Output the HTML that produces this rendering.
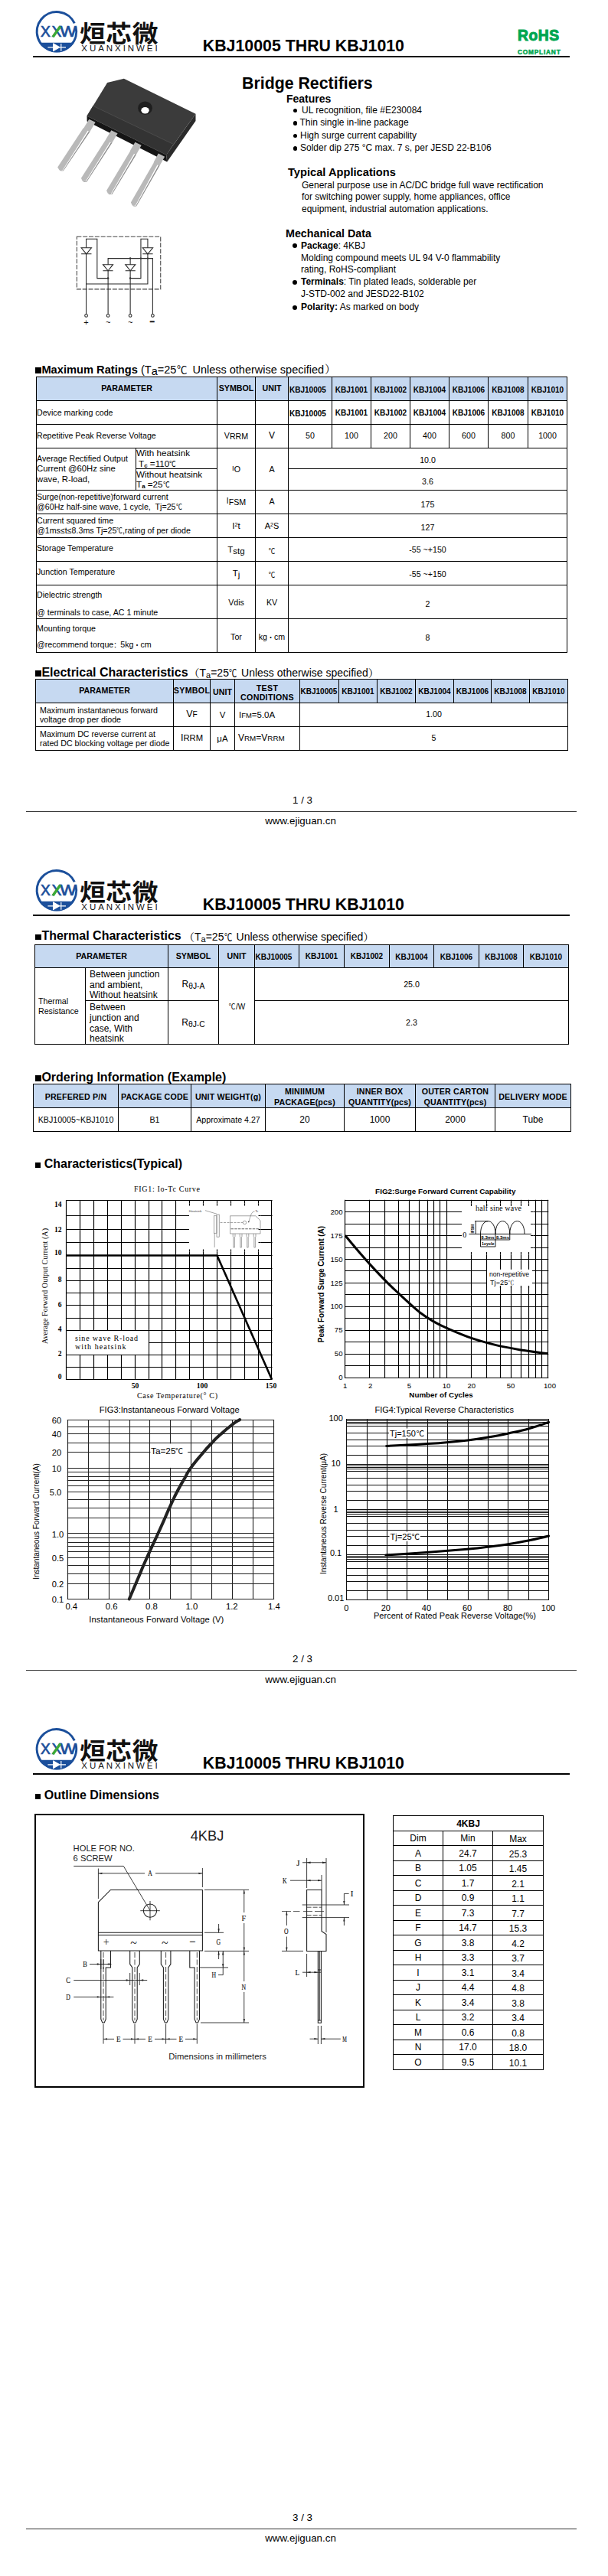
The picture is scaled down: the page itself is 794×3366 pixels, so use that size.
<!DOCTYPE html>
<html lang="en"><head><meta charset="utf-8"><title>KBJ10005 THRU KBJ1010</title>
<style>
html,body{margin:0;padding:0;background:#fff;}
body{width:794px;height:3366px;position:relative;overflow:hidden;font-family:"Liberation Sans","Noto Sans CJK SC",sans-serif;color:#000;}
.t{position:absolute;white-space:pre;line-height:1em;}
.l{position:absolute;}
.c{position:absolute;display:flex;align-items:center;justify-content:center;text-align:center;line-height:1.1;white-space:pre;}
.s{font-family:"Liberation Serif","Noto Serif CJK SC",serif;}
.m{font-family:"Liberation Mono",monospace;}
svg{position:absolute;overflow:visible;}
svg text{font-family:"Liberation Sans","Noto Sans CJK SC",sans-serif;}
svg text.s{font-family:"Liberation Serif","Noto Serif CJK SC",serif;}
.sm{font-size:82%;}
.sub{font-size:75%;vertical-align:-0.2em;}
.sup{font-size:65%;vertical-align:0.45em;}
.cj{font-family:"Noto Serif CJK SC","Noto Sans CJK SC",serif;line-height:0;}
.dc{display:inline-block;transform:scaleX(0.8);transform-origin:0 50%;margin-right:-0.22em;line-height:0;font-family:"Noto Sans CJK SC",sans-serif;font-size:92%;white-space:nowrap;}
</style></head><body>
<svg style="left:40px;top:8px" width="70" height="66" viewBox="40 8 70 66">
<defs><clipPath id="cp0"><rect x="40" y="55.8" width="70" height="20"/></clipPath></defs>
<path d="M 98.93 35.12 A 25.75 25.75 0 1 1 97.29 30.47" fill="none" stroke="#1b4f9b" stroke-width="3"/>
<circle cx="73.95" cy="41.35" r="26.9" fill="#1b4f9b" clip-path="url(#cp0)"/>
<g font-size="19.3" fill="#1b4f9b" stroke="#1b4f9b" stroke-width="0.7"><text x="53.1" y="48.3">X</text><text x="67.4" y="48.3">X</text><text x="78.3" y="48.3" textLength="21.5" lengthAdjust="spacingAndGlyphs">W</text></g>
<path d="M 69.1 48.3 L 78.8 34.5" stroke="#3aaa35" stroke-width="3.3" fill="none"/>
<path d="M 62.4 61.8 H 86 M 69.6 57 V 66.6 L 77.8 61.8 Z M 79.8 57 V 66.7" stroke="#fff" stroke-width="1.2" fill="#fff" stroke-linejoin="round"/>
</svg>
<div class="t" style="left:104px;top:26px;font-size:31px;font-weight:bold;font-family:'Noto Sans CJK SC','WenQuanYi Zen Hei',sans-serif;letter-spacing:0.5px;transform:scaleX(1.09);transform-origin:0 0;line-height:1em;color:#111">烜芯微</div>
<div class="t " style="left:106.30px;top:57.77px;font-size:11.5px;letter-spacing:2.95px;color:#111;">XUANXINWEI</div>
<div class="t " style="left:264.80px;top:49.54px;font-size:21.33px;font-weight:bold;">KBJ10005 THRU KBJ1010</div>
<div class="l" style="left:43px;top:73.3px;width:701px;height:1.3px;background:#000"></div>
<div class="t " style="left:676.00px;top:36.66px;font-size:19.3px;font-weight:bold;color:#00a650;-webkit-text-stroke:1px #00a650;letter-spacing:0.55px;">RoHS</div>
<div class="t " style="left:676.00px;top:64.17px;font-size:8.3px;font-weight:bold;color:#00a650;-webkit-text-stroke:0.5px #00a650;letter-spacing:0.8px;">COMPLIANT</div>
<div class="t " style="left:395.00px;top:1038.72px;font-size:13.33px;transform:translateX(-50%);">1 / 3</div>
<div class="l" style="left:34px;top:1059.5px;width:719px;height:1.3px;background:#333"></div>
<div class="t " style="left:392.50px;top:1065.72px;font-size:13.33px;transform:translateX(-50%);">www.ejiguan.cn</div>
<svg style="left:40px;top:1130px" width="70" height="66" viewBox="40 8 70 66">
<defs><clipPath id="cp1122"><rect x="40" y="55.8" width="70" height="20"/></clipPath></defs>
<path d="M 98.93 35.12 A 25.75 25.75 0 1 1 97.29 30.47" fill="none" stroke="#1b4f9b" stroke-width="3"/>
<circle cx="73.95" cy="41.35" r="26.9" fill="#1b4f9b" clip-path="url(#cp1122)"/>
<g font-size="19.3" fill="#1b4f9b" stroke="#1b4f9b" stroke-width="0.7"><text x="53.1" y="48.3">X</text><text x="67.4" y="48.3">X</text><text x="78.3" y="48.3" textLength="21.5" lengthAdjust="spacingAndGlyphs">W</text></g>
<path d="M 69.1 48.3 L 78.8 34.5" stroke="#3aaa35" stroke-width="3.3" fill="none"/>
<path d="M 62.4 61.8 H 86 M 69.6 57 V 66.6 L 77.8 61.8 Z M 79.8 57 V 66.7" stroke="#fff" stroke-width="1.2" fill="#fff" stroke-linejoin="round"/>
</svg>
<div class="t" style="left:104px;top:1148px;font-size:31px;font-weight:bold;font-family:'Noto Sans CJK SC','WenQuanYi Zen Hei',sans-serif;letter-spacing:0.5px;transform:scaleX(1.09);transform-origin:0 0;line-height:1em;color:#111">烜芯微</div>
<div class="t " style="left:106.30px;top:1179.77px;font-size:11.5px;letter-spacing:2.95px;color:#111;">XUANXINWEI</div>
<div class="t " style="left:264.80px;top:1171.54px;font-size:21.33px;font-weight:bold;">KBJ10005 THRU KBJ1010</div>
<div class="l" style="left:43px;top:1195.3px;width:701px;height:1.3px;background:#000"></div>
<div class="t " style="left:395.00px;top:2160.72px;font-size:13.33px;transform:translateX(-50%);">2 / 3</div>
<div class="l" style="left:34px;top:2181.5px;width:719px;height:1.3px;background:#333"></div>
<div class="t " style="left:392.50px;top:2187.72px;font-size:13.33px;transform:translateX(-50%);">www.ejiguan.cn</div>
<svg style="left:40px;top:2252px" width="70" height="66" viewBox="40 8 70 66">
<defs><clipPath id="cp2244"><rect x="40" y="55.8" width="70" height="20"/></clipPath></defs>
<path d="M 98.93 35.12 A 25.75 25.75 0 1 1 97.29 30.47" fill="none" stroke="#1b4f9b" stroke-width="3"/>
<circle cx="73.95" cy="41.35" r="26.9" fill="#1b4f9b" clip-path="url(#cp2244)"/>
<g font-size="19.3" fill="#1b4f9b" stroke="#1b4f9b" stroke-width="0.7"><text x="53.1" y="48.3">X</text><text x="67.4" y="48.3">X</text><text x="78.3" y="48.3" textLength="21.5" lengthAdjust="spacingAndGlyphs">W</text></g>
<path d="M 69.1 48.3 L 78.8 34.5" stroke="#3aaa35" stroke-width="3.3" fill="none"/>
<path d="M 62.4 61.8 H 86 M 69.6 57 V 66.6 L 77.8 61.8 Z M 79.8 57 V 66.7" stroke="#fff" stroke-width="1.2" fill="#fff" stroke-linejoin="round"/>
</svg>
<div class="t" style="left:104px;top:2270px;font-size:31px;font-weight:bold;font-family:'Noto Sans CJK SC','WenQuanYi Zen Hei',sans-serif;letter-spacing:0.5px;transform:scaleX(1.09);transform-origin:0 0;line-height:1em;color:#111">烜芯微</div>
<div class="t " style="left:106.30px;top:2301.77px;font-size:11.5px;letter-spacing:2.95px;color:#111;">XUANXINWEI</div>
<div class="t " style="left:264.80px;top:2293.54px;font-size:21.33px;font-weight:bold;">KBJ10005 THRU KBJ1010</div>
<div class="l" style="left:43px;top:2317.3px;width:701px;height:1.3px;background:#000"></div>
<div class="t " style="left:395.00px;top:3282.72px;font-size:13.33px;transform:translateX(-50%);">3 / 3</div>
<div class="l" style="left:34px;top:3303.5px;width:719px;height:1.3px;background:#333"></div>
<div class="t " style="left:392.50px;top:3309.72px;font-size:13.33px;transform:translateX(-50%);">www.ejiguan.cn</div>
<svg style="left:60px;top:90px" width="210" height="190" viewBox="0 0 608 550">
<defs>
<linearGradient id="lg" x1="0" y1="0" x2="1" y2="0"><stop offset="0" stop-color="#c9c9c9"/><stop offset="0.5" stop-color="#b4b4b4"/><stop offset="1" stop-color="#8f8f8f"/></linearGradient>
</defs>
<g stroke="none">
<!-- body -->
<path d="M155 178 L455 325 L458 352 L155 198 Z" fill="#151515"/>
<path d="M566 170 L566 197 L458 352 L455 325 Z" fill="#2b2b2b"/>
<path d="M232 52 L295 37 L566 170 L455 325 L155 178 Z" fill="#3b3b3b"/>
<path d="M178 140 L480 284 L455 325 L155 178 Z" fill="#333333"/>
<path d="M178 140 L480 284" stroke="#555" stroke-width="2" fill="none"/>
<path d="M155 178 L455 325" stroke="#4a4a4a" stroke-width="1.5" fill="none"/>
<!-- leads -->
<g fill="#b9b9b9">
<path d="M163 190 L187 202 L166 238 L158 234 L62 384 L50 382 L44 372 L140 226 L144 222 Z"/>
<path d="M247 232 L271 244 L250 280 L242 277 L150 425 L138 424 L133 413 L226 268 L228 264 Z"/>
<path d="M337 277 L361 289 L341 325 L333 321 L246 472 L234 471 L229 460 L318 312 L319 308 Z"/>
<path d="M425 320 L449 332 L430 366 L421 363 L338 517 L326 516 L321 505 L407 356 L408 352 Z"/>
</g>
<g fill="#8f8f8f">
<path d="M166 238 L162 236 L64 385 L50 382 L56 386 L66 386 Z"/>
<path d="M250 280 L246 278 L152 426 L138 424 L144 428 L154 428 Z"/>
<path d="M341 325 L337 323 L248 473 L234 471 L240 475 L250 475 Z"/>
<path d="M430 366 L426 364 L340 518 L326 516 L332 520 L342 520 Z"/>
</g>
<ellipse cx="375" cy="148" rx="27" ry="25" fill="#1e1e1e"/>
<ellipse cx="375" cy="157" rx="15" ry="12" fill="#fff"/>
</g></svg>
<svg style="left:90px;top:295px" width="140" height="140" viewBox="0 0 608 608">
<g fill="none" stroke="#262626" stroke-width="4.6">
<rect x="45" y="62" width="475" height="298" stroke="#444" stroke-dasharray="26 8"/>
<path d="M98 502 V75 H160 V298 H222"/>
<path d="M222 502 V185 H475 V502"/>
<path d="M348 502 V185"/>
<path d="M348 298 H408 V75 H447 V330 H98"/>
<path d="M70 160 H128 M193 255 H250 M320 255 H377 M418 160 H476"/>
<path d="M70 125 H128 L99 160 Z M193 220 H250 L222 255 Z M320 220 H377 L348 255 Z M418 125 H476 L447 160 Z" fill="#fff"/>
<circle cx="98" cy="510" r="8" fill="#fff"/><circle cx="222" cy="510" r="8" fill="#fff"/><circle cx="348" cy="510" r="8" fill="#fff"/><circle cx="475" cy="510" r="8" fill="#fff"/>
</g>
<g fill="#333" stroke="none"><circle cx="222" cy="298" r="5.5"/><circle cx="348" cy="298" r="5.5"/><circle cx="348" cy="185" r="5.5"/><circle cx="408" cy="185" r="5"/><circle cx="447" cy="185" r="5"/></g>
<g font-size="48" fill="#111" text-anchor="middle"><text x="98" y="566">+</text><text x="222" y="564">~</text><text x="348" y="564">~</text><text x="472" y="562" font-weight="bold" stroke="#111" stroke-width="2">−</text></g>
</svg>
<div class="t " style="left:316.00px;top:98.54px;font-size:21.33px;font-weight:bold;">Bridge Rectifiers</div>
<div class="t " style="left:374.00px;top:121.55px;font-size:14px;font-weight:bold;">Features</div>
<div class="l" style="left:382.5px;top:141.80px;width:5.6px;height:5.6px;border-radius:50%;background:#000"></div>
<div class="t " style="left:394.00px;top:137.84px;font-size:12px;">UL recognition, file #E230084</div>
<div class="l" style="left:382.5px;top:158.30px;width:5.6px;height:5.6px;border-radius:50%;background:#000"></div>
<div class="t " style="left:391.50px;top:154.34px;font-size:12px;">Thin single in-line package</div>
<div class="l" style="left:382.5px;top:174.80px;width:5.6px;height:5.6px;border-radius:50%;background:#000"></div>
<div class="t " style="left:392.00px;top:170.84px;font-size:12px;">High surge current capability</div>
<div class="l" style="left:382.5px;top:191.30px;width:5.6px;height:5.6px;border-radius:50%;background:#000"></div>
<div class="t " style="left:392.00px;top:187.34px;font-size:12px;">Solder dip 275 °C max. 7 s, per JESD 22-B106</div>
<div class="t " style="left:376.00px;top:217.58px;font-size:14.67px;font-weight:bold;">Typical Applications</div>
<div class="t " style="left:394.00px;top:235.84px;font-size:12px;">General purpose use in AC/DC bridge full wave rectification</div>
<div class="t " style="left:394.00px;top:251.34px;font-size:12px;">for switching power supply, home appliances, office</div>
<div class="t " style="left:394.00px;top:266.84px;font-size:12px;">equipment, industrial automation applications.</div>
<div class="t " style="left:373.00px;top:297.90px;font-size:14.3px;font-weight:bold;">Mechanical Data</div>
<div class="l" style="left:382px;top:318.20px;width:6.2px;height:6.2px;border-radius:50%;background:#000"></div>
<div class="t " style="left:393.00px;top:314.84px;font-size:12px;"><b>Package</b>: 4KBJ</div>
<div class="t " style="left:393.00px;top:330.84px;font-size:12px;">Molding compound meets UL 94 V-0 flammability</div>
<div class="t " style="left:393.00px;top:346.34px;font-size:12px;">rating, RoHS-compliant</div>
<div class="l" style="left:382px;top:365.70px;width:6.2px;height:6.2px;border-radius:50%;background:#000"></div>
<div class="t " style="left:393.00px;top:362.34px;font-size:12px;"><b>Terminals</b>: Tin plated leads, solderable per</div>
<div class="t " style="left:393.00px;top:378.34px;font-size:12px;">J-STD-002 and JESD22-B102</div>
<div class="l" style="left:382px;top:398.70px;width:6.2px;height:6.2px;border-radius:50%;background:#000"></div>
<div class="t " style="left:393.00px;top:395.34px;font-size:12px;"><b>Polarity:</b> As marked on body</div>
<div class="t h1" style="left:46.00px;top:475.58px;font-size:14.67px;font-weight:bold;"><span style="display:inline-block;width:7.6px;height:7.6px;background:#000;margin-right:0.8px"></span>Maximum Ratings</div>
<div class="t " style="left:184.00px;top:475.73px;font-size:14.5px;">(T<span style="vertical-align:-1.5px">a</span>=25<span class="cj" style="margin:0 3px 0 0.5px;font-family:'Noto Sans CJK SC',sans-serif;font-size:13.5px">℃</span> Unless otherwise specified<span class="cj" style="margin-left:1px">）</span></div>
<div class="l" style="left:47px;top:492px;width:693px;height:31px;background:#c6d9f1"></div>
<div class="l" style="left:47px;top:492px;width:694px;height:1px;background:#000"></div>
<div class="l" style="left:47px;top:523px;width:694px;height:1px;background:#000"></div>
<div class="l" style="left:47px;top:554px;width:694px;height:1px;background:#000"></div>
<div class="l" style="left:47px;top:585px;width:694px;height:1px;background:#000"></div>
<div class="l" style="left:47px;top:640px;width:694px;height:1px;background:#000"></div>
<div class="l" style="left:47px;top:671px;width:694px;height:1px;background:#000"></div>
<div class="l" style="left:47px;top:702px;width:694px;height:1px;background:#000"></div>
<div class="l" style="left:47px;top:733px;width:694px;height:1px;background:#000"></div>
<div class="l" style="left:47px;top:764px;width:694px;height:1px;background:#000"></div>
<div class="l" style="left:47px;top:808px;width:694px;height:1px;background:#000"></div>
<div class="l" style="left:47px;top:852px;width:694px;height:1px;background:#000"></div>
<div class="l" style="left:47px;top:492px;width:1px;height:361px;background:#000"></div>
<div class="l" style="left:283px;top:492px;width:1px;height:361px;background:#000"></div>
<div class="l" style="left:333px;top:492px;width:1px;height:361px;background:#000"></div>
<div class="l" style="left:376px;top:492px;width:1px;height:361px;background:#000"></div>
<div class="l" style="left:740px;top:492px;width:1px;height:361px;background:#000"></div>
<div class="l" style="left:433px;top:492px;width:1px;height:93px;background:#000"></div>
<div class="l" style="left:484px;top:492px;width:1px;height:93px;background:#000"></div>
<div class="l" style="left:535px;top:492px;width:1px;height:93px;background:#000"></div>
<div class="l" style="left:586px;top:492px;width:1px;height:93px;background:#000"></div>
<div class="l" style="left:637px;top:492px;width:1px;height:93px;background:#000"></div>
<div class="l" style="left:689px;top:492px;width:1px;height:93px;background:#000"></div>
<div class="l" style="left:177px;top:585px;width:1px;height:55px;background:#000"></div>
<div class="l" style="left:177px;top:612px;width:106px;height:1px;background:#000"></div>
<div class="l" style="left:376px;top:612px;width:364px;height:1px;background:#000"></div>
<div class="c" style="left:48px;top:493px;width:235px;height:30px;font-size:10.67px;font-weight:bold;"><div>PARAMETER</div></div>
<div class="c" style="left:284px;top:493px;width:49px;height:30px;font-size:10.67px;font-weight:bold;"><div>SYMBOL</div></div>
<div class="c" style="left:334px;top:493px;width:42px;height:30px;font-size:10.67px;font-weight:bold;"><div>UNIT</div></div>
<div class="c" style="left:377px;top:494px;width:56px;height:30px;font-size:10px;font-weight:bold;justify-content:flex-start;text-align:left;padding-left:1px;box-sizing:border-box;"><div>KBJ10005</div></div>
<div class="c" style="left:377px;top:525px;width:56px;height:30px;font-size:10px;font-weight:bold;justify-content:flex-start;text-align:left;padding-left:1px;box-sizing:border-box;"><div>KBJ10005</div></div>
<div class="c" style="left:434px;top:494px;width:50px;height:30px;font-size:10px;font-weight:bold;"><div>KBJ1001</div></div>
<div class="c" style="left:434px;top:524px;width:50px;height:30px;font-size:10px;font-weight:bold;"><div>KBJ1001</div></div>
<div class="c" style="left:485px;top:494px;width:50px;height:30px;font-size:10px;font-weight:bold;"><div>KBJ1002</div></div>
<div class="c" style="left:485px;top:524px;width:50px;height:30px;font-size:10px;font-weight:bold;"><div>KBJ1002</div></div>
<div class="c" style="left:536px;top:494px;width:50px;height:30px;font-size:10px;font-weight:bold;"><div>KBJ1004</div></div>
<div class="c" style="left:536px;top:524px;width:50px;height:30px;font-size:10px;font-weight:bold;"><div>KBJ1004</div></div>
<div class="c" style="left:587px;top:494px;width:50px;height:30px;font-size:10px;font-weight:bold;"><div>KBJ1006</div></div>
<div class="c" style="left:587px;top:524px;width:50px;height:30px;font-size:10px;font-weight:bold;"><div>KBJ1006</div></div>
<div class="c" style="left:638px;top:494px;width:51px;height:30px;font-size:10px;font-weight:bold;"><div>KBJ1008</div></div>
<div class="c" style="left:638px;top:524px;width:51px;height:30px;font-size:10px;font-weight:bold;"><div>KBJ1008</div></div>
<div class="c" style="left:690px;top:494px;width:50px;height:30px;font-size:10px;font-weight:bold;"><div>KBJ1010</div></div>
<div class="c" style="left:690px;top:524px;width:50px;height:30px;font-size:10px;font-weight:bold;"><div>KBJ1010</div></div>
<div class="c" style="left:48px;top:525px;width:235px;height:30px;font-size:10.67px;justify-content:flex-start;text-align:left;padding-left:0px;box-sizing:border-box;"><div>Device marking code</div></div>
<div class="c" style="left:48px;top:555px;width:235px;height:30px;font-size:10.67px;justify-content:flex-start;text-align:left;padding-left:0px;box-sizing:border-box;"><div>Repetitive Peak Reverse Voltage</div></div>
<div class="c" style="left:284px;top:555px;width:49px;height:30px;font-size:10.67px;"><div>V<span style="vertical-align:-1px">RRM</span></div></div>
<div class="c" style="left:334px;top:555px;width:42px;height:30px;font-size:12px;"><div>V</div></div>
<div class="c" style="left:377px;top:555px;width:56px;height:30px;font-size:10.67px;"><div>50</div></div>
<div class="c" style="left:434px;top:555px;width:50px;height:30px;font-size:10.67px;"><div>100</div></div>
<div class="c" style="left:485px;top:555px;width:50px;height:30px;font-size:10.67px;"><div>200</div></div>
<div class="c" style="left:536px;top:555px;width:50px;height:30px;font-size:10.67px;"><div>400</div></div>
<div class="c" style="left:587px;top:555px;width:50px;height:30px;font-size:10.67px;"><div>600</div></div>
<div class="c" style="left:638px;top:555px;width:51px;height:30px;font-size:10.67px;"><div>800</div></div>
<div class="c" style="left:690px;top:555px;width:50px;height:30px;font-size:10.67px;"><div>1000</div></div>
<div class="c" style="left:48px;top:586px;width:129px;height:54px;font-size:11.33px;justify-content:flex-start;text-align:left;padding-left:0px;box-sizing:border-box;line-height:13.5px;"><div><span style="font-size:10.67px">Average Rectified Output</span>
Current @60Hz sine
wave, R-load,</div></div>
<div class="c" style="left:178px;top:587px;width:105px;height:26px;font-size:11.67px;justify-content:flex-start;text-align:left;padding-left:0px;box-sizing:border-box;line-height:13.5px;"><div>With heatsink
 T<span style="font-size:8px;font-weight:bold;vertical-align:-1px">c</span> =110<span class="dc">℃</span></div></div>
<div class="c" style="left:178px;top:614px;width:105px;height:27px;font-size:11.67px;justify-content:flex-start;text-align:left;padding-left:0px;box-sizing:border-box;line-height:13.5px;"><div>Without heatsink
T<span style="font-size:8px;font-weight:bold;vertical-align:-1px">a</span> =25<span class="dc">℃</span></div></div>
<div class="c" style="left:284px;top:586px;width:49px;height:54px;font-size:10.67px;"><div><span style="font-size:9.5px;vertical-align:1.5px">I</span>O</div></div>
<div class="c" style="left:334px;top:587px;width:42px;height:54px;font-size:10.67px;"><div>A</div></div>
<div class="c" style="left:377px;top:588.8px;width:363px;height:26px;font-size:10.67px;"><div>10.0</div></div>
<div class="c" style="left:377px;top:616px;width:363px;height:27px;font-size:10.67px;"><div>3.6</div></div>
<div class="c" style="left:48px;top:641px;width:235px;height:30px;font-size:10.67px;justify-content:flex-start;text-align:left;padding-left:0px;box-sizing:border-box;line-height:13.5px;"><div>Surge(non-repetitive)forward current
@60Hz half-sine wave, 1 cycle,  Tj=25<span class="dc">℃</span></div></div>
<div class="c" style="left:284px;top:641px;width:49px;height:30px;font-size:10.67px;"><div><span style="font-size:10px;vertical-align:2px">I</span>FSM</div></div>
<div class="c" style="left:334px;top:641px;width:42px;height:30px;font-size:10.67px;"><div>A</div></div>
<div class="c" style="left:377px;top:644.5px;width:363px;height:30px;font-size:10.67px;"><div>175</div></div>
<div class="c" style="left:48px;top:672px;width:235px;height:30px;font-size:10.67px;justify-content:flex-start;text-align:left;padding-left:0px;box-sizing:border-box;line-height:13.5px;"><div>Current squared time
@1ms≤t≤8.3ms Tj=25<span class="dc">℃</span>,rating of per diode</div></div>
<div class="c" style="left:284px;top:672px;width:49px;height:30px;font-size:11.5px;"><div>I<span class="sup">2</span>t</div></div>
<div class="c" style="left:334px;top:672px;width:42px;height:30px;font-size:11px;"><div>A<span class="sup">2</span>S</div></div>
<div class="c" style="left:377px;top:675.3px;width:363px;height:30px;font-size:10.67px;"><div>127</div></div>
<div class="c" style="left:48px;top:701.5px;width:235px;height:30px;font-size:10.67px;justify-content:flex-start;text-align:left;padding-left:0px;box-sizing:border-box;"><div>Storage Temperature</div></div>
<div class="c" style="left:284px;top:704.5px;width:49px;height:30px;font-size:11.5px;"><div>T<span style="vertical-align:-2px">stg</span></div></div>
<div class="c" style="left:334px;top:705px;width:42px;height:30px;font-size:10px;"><div><span style="font-family:'Noto Sans CJK SC';line-height:0;display:inline-block;transform:scaleX(0.85)">℃</span></div></div>
<div class="c" style="left:377px;top:703.6px;width:363px;height:30px;font-size:10.67px;"><div>-55 ~+150</div></div>
<div class="c" style="left:48px;top:732.5px;width:235px;height:30px;font-size:10.67px;justify-content:flex-start;text-align:left;padding-left:0px;box-sizing:border-box;"><div>Junction Temperature</div></div>
<div class="c" style="left:284px;top:735.5px;width:49px;height:30px;font-size:11.5px;"><div>T<span style="vertical-align:-2px">j</span></div></div>
<div class="c" style="left:334px;top:736px;width:42px;height:30px;font-size:10px;"><div><span style="font-family:'Noto Sans CJK SC';line-height:0;display:inline-block;transform:scaleX(0.85)">℃</span></div></div>
<div class="c" style="left:377px;top:735.5px;width:363px;height:30px;font-size:10.67px;"><div>-55 ~+150</div></div>
<div class="c" style="left:48px;top:767px;width:235px;height:43px;font-size:10.67px;justify-content:flex-start;text-align:left;padding-left:0px;box-sizing:border-box;line-height:22.5px;"><div>Dielectric strength
@ terminals to case, AC 1 minute</div></div>
<div class="c" style="left:284px;top:766.5px;width:49px;height:43px;font-size:10.67px;"><div>Vdis</div></div>
<div class="c" style="left:334px;top:766.5px;width:42px;height:43px;font-size:10.67px;"><div>KV</div></div>
<div class="c" style="left:377px;top:768px;width:363px;height:43px;font-size:10.67px;"><div>2</div></div>
<div class="c" style="left:48px;top:810.7px;width:235px;height:43px;font-size:10.67px;justify-content:flex-start;text-align:left;padding-left:0px;box-sizing:border-box;line-height:21.5px;"><div>Mounting torque
@recommend torque<span style="font-family:'Noto Sans CJK SC';font-size:9px">：</span>5kg<span style="font-family:'Noto Sans CJK SC';font-size:9px">・</span>cm</div></div>
<div class="c" style="left:284px;top:811.5px;width:49px;height:43px;font-size:10.67px;"><div>Tor</div></div>
<div class="c" style="left:334px;top:811.5px;width:42px;height:43px;font-size:10.67px;"><div>kg<span style="font-family:'Noto Sans CJK SC';font-size:9px">・</span>cm</div></div>
<div class="c" style="left:377px;top:812px;width:363px;height:43px;font-size:10.67px;"><div>8</div></div>
<div class="t " style="left:46.00px;top:870.76px;font-size:16px;font-weight:bold;"><span style="display:inline-block;width:7.6px;height:7.6px;background:#000;margin-right:0.8px"></span>Electrical Characteristics</div>
<div class="t " style="left:246.50px;top:872.45px;font-size:14px;"><span class="cj">（</span>T<span style="font-size:11px;vertical-align:-2px">a</span>=25<span class="dc" style="margin-right:-1.2px;margin-left:0.5px">℃</span> Unless otherwise specified<span class="cj">）</span></div>
<div class="l" style="left:46px;top:887px;width:695px;height:31px;background:#c6d9f1"></div>
<div class="l" style="left:46px;top:887px;width:696px;height:1px;background:#000"></div>
<div class="l" style="left:46px;top:918px;width:696px;height:1px;background:#000"></div>
<div class="l" style="left:46px;top:949px;width:696px;height:1px;background:#000"></div>
<div class="l" style="left:46px;top:980px;width:696px;height:1px;background:#000"></div>
<div class="l" style="left:46px;top:887px;width:1px;height:94px;background:#000"></div>
<div class="l" style="left:226px;top:887px;width:1px;height:94px;background:#000"></div>
<div class="l" style="left:274px;top:887px;width:1px;height:94px;background:#000"></div>
<div class="l" style="left:306px;top:887px;width:1px;height:94px;background:#000"></div>
<div class="l" style="left:391px;top:887px;width:1px;height:94px;background:#000"></div>
<div class="l" style="left:741px;top:887px;width:1px;height:94px;background:#000"></div>
<div class="l" style="left:442px;top:887px;width:1px;height:31px;background:#000"></div>
<div class="l" style="left:492px;top:887px;width:1px;height:31px;background:#000"></div>
<div class="l" style="left:542px;top:887px;width:1px;height:31px;background:#000"></div>
<div class="l" style="left:592px;top:887px;width:1px;height:31px;background:#000"></div>
<div class="l" style="left:641px;top:887px;width:1px;height:31px;background:#000"></div>
<div class="l" style="left:691px;top:887px;width:1px;height:31px;background:#000"></div>
<div class="c" style="left:47px;top:888px;width:179px;height:30px;font-size:10.67px;font-weight:bold;"><div>PARAMETER</div></div>
<div class="c" style="left:227px;top:888px;width:47px;height:30px;font-size:10.67px;font-weight:bold;letter-spacing:0.3px;"><div>SYMBOL</div></div>
<div class="c" style="left:275px;top:890px;width:31px;height:30px;font-size:10.67px;font-weight:bold;"><div>UNIT</div></div>
<div class="c" style="left:307px;top:890px;width:84px;height:30px;font-size:10.67px;font-weight:bold;line-height:12.5px;letter-spacing:0.3px;"><div>TEST
CONDITIONS</div></div>
<div class="c" style="left:392px;top:888px;width:50px;height:30px;font-size:10px;font-weight:bold;justify-content:flex-start;text-align:left;padding-left:0.5px;box-sizing:border-box;"><div>KBJ10005</div></div>
<div class="c" style="left:443px;top:888px;width:49px;height:30px;font-size:10px;font-weight:bold;"><div>KBJ1001</div></div>
<div class="c" style="left:493px;top:888px;width:49px;height:30px;font-size:10px;font-weight:bold;"><div>KBJ1002</div></div>
<div class="c" style="left:543px;top:888px;width:49px;height:30px;font-size:10px;font-weight:bold;"><div>KBJ1004</div></div>
<div class="c" style="left:593px;top:888px;width:48px;height:30px;font-size:10px;font-weight:bold;"><div>KBJ1006</div></div>
<div class="c" style="left:642px;top:888px;width:49px;height:30px;font-size:10px;font-weight:bold;"><div>KBJ1008</div></div>
<div class="c" style="left:692px;top:888px;width:49px;height:30px;font-size:10px;font-weight:bold;"><div>KBJ1010</div></div>
<div class="c" style="left:47px;top:919px;width:179px;height:30px;font-size:10.67px;justify-content:flex-start;text-align:left;padding-left:5px;box-sizing:border-box;line-height:12.5px;"><div>Maximum instantaneous forward
voltage drop per diode</div></div>
<div class="c" style="left:47px;top:950px;width:179px;height:30px;font-size:10.67px;justify-content:flex-start;text-align:left;padding-left:5px;box-sizing:border-box;line-height:12.5px;"><div>Maximum DC reverse current at
rated DC blocking voltage per diode</div></div>
<div class="c" style="left:227px;top:919px;width:47px;height:30px;font-size:12.5px;"><div>V<span class="sm">F</span></div></div>
<div class="c" style="left:227px;top:950px;width:47px;height:30px;font-size:12.5px;"><div>I<span class="sm" style="font-size:90%">RRM</span></div></div>
<div class="c" style="left:275px;top:919px;width:31px;height:30px;font-size:11.5px;"><div>V</div></div>
<div class="c" style="left:275px;top:950px;width:31px;height:30px;font-size:11.5px;"><div>μA</div></div>
<div class="c" style="left:307px;top:919px;width:84px;height:30px;font-size:11.5px;justify-content:flex-start;text-align:left;padding-left:5px;box-sizing:border-box;"><div>I<span class="sm">FM</span>=5.0A</div></div>
<div class="c" style="left:307px;top:950px;width:84px;height:30px;font-size:12px;justify-content:flex-start;text-align:left;padding-left:4px;box-sizing:border-box;"><div>V<span class="sm">RM</span>=V<span class="sm">RRM</span></div></div>
<div class="c" style="left:392px;top:919px;width:349px;height:30px;font-size:10.67px;"><div>1.00</div></div>
<div class="c" style="left:392px;top:950px;width:349px;height:30px;font-size:10.67px;"><div>5</div></div>
<div class="t " style="left:46.00px;top:1215.46px;font-size:16px;font-weight:bold;"><span style="display:inline-block;width:7.6px;height:7.6px;background:#000;margin-right:0.8px"></span>Thermal Characteristics</div>
<div class="t " style="left:240.00px;top:1217.15px;font-size:14px;"><span class="cj">（</span>T<span style="font-size:11px;vertical-align:-2px">a</span>=25<span class="dc" style="margin-right:-1.2px;margin-left:0.5px">℃</span> Unless otherwise specified<span class="cj">）</span></div>
<div class="l" style="left:45px;top:1234px;width:697px;height:30px;background:#c6d9f1"></div>
<div class="l" style="left:45px;top:1234px;width:698px;height:1px;background:#000"></div>
<div class="l" style="left:45px;top:1264px;width:698px;height:1px;background:#000"></div>
<div class="l" style="left:45px;top:1364px;width:698px;height:1px;background:#000"></div>
<div class="l" style="left:111px;top:1307px;width:174px;height:1px;background:#000"></div>
<div class="l" style="left:332px;top:1307px;width:410px;height:1px;background:#000"></div>
<div class="l" style="left:45px;top:1234px;width:1px;height:131px;background:#000"></div>
<div class="l" style="left:219px;top:1234px;width:1px;height:131px;background:#000"></div>
<div class="l" style="left:285px;top:1234px;width:1px;height:131px;background:#000"></div>
<div class="l" style="left:332px;top:1234px;width:1px;height:131px;background:#000"></div>
<div class="l" style="left:742px;top:1234px;width:1px;height:131px;background:#000"></div>
<div class="l" style="left:111px;top:1264px;width:1px;height:100px;background:#000"></div>
<div class="l" style="left:390px;top:1234px;width:1px;height:30px;background:#000"></div>
<div class="l" style="left:449px;top:1234px;width:1px;height:30px;background:#000"></div>
<div class="l" style="left:508px;top:1234px;width:1px;height:30px;background:#000"></div>
<div class="l" style="left:566px;top:1234px;width:1px;height:30px;background:#000"></div>
<div class="l" style="left:625px;top:1234px;width:1px;height:30px;background:#000"></div>
<div class="l" style="left:683px;top:1234px;width:1px;height:30px;background:#000"></div>
<div class="c" style="left:46px;top:1235px;width:173px;height:29px;font-size:10.67px;font-weight:bold;"><div>PARAMETER</div></div>
<div class="c" style="left:220px;top:1235px;width:65px;height:29px;font-size:10.67px;font-weight:bold;"><div>SYMBOL</div></div>
<div class="c" style="left:286px;top:1235px;width:46px;height:29px;font-size:10.67px;font-weight:bold;"><div>UNIT</div></div>
<div class="c" style="left:333px;top:1236px;width:57px;height:29px;font-size:10px;font-weight:bold;justify-content:flex-start;text-align:left;padding-left:0.5px;box-sizing:border-box;"><div>KBJ10005</div></div>
<div class="c" style="left:391px;top:1235px;width:58px;height:29px;font-size:10px;font-weight:bold;"><div>KBJ1001</div></div>
<div class="c" style="left:450px;top:1235px;width:58px;height:29px;font-size:10px;font-weight:bold;"><div>KBJ1002</div></div>
<div class="c" style="left:509px;top:1235.8px;width:57px;height:29px;font-size:10px;font-weight:bold;"><div>KBJ1004</div></div>
<div class="c" style="left:567px;top:1235.8px;width:58px;height:29px;font-size:10px;font-weight:bold;"><div>KBJ1006</div></div>
<div class="c" style="left:626px;top:1235.8px;width:57px;height:29px;font-size:10px;font-weight:bold;"><div>KBJ1008</div></div>
<div class="c" style="left:684px;top:1235.8px;width:58px;height:29px;font-size:10px;font-weight:bold;"><div>KBJ1010</div></div>
<div class="c" style="left:46px;top:1265px;width:65px;height:99px;font-size:10.67px;justify-content:flex-start;text-align:left;padding-left:4px;box-sizing:border-box;line-height:12.5px;"><div>Thermal
Resistance</div></div>
<div class="c" style="left:112px;top:1266.7px;width:107px;height:42px;font-size:12px;justify-content:flex-start;text-align:left;padding-left:5px;box-sizing:border-box;line-height:13.5px;"><div>Between junction
and ambient,
Without heatsink</div></div>
<div class="c" style="left:112px;top:1309.5px;width:107px;height:56px;font-size:12px;justify-content:flex-start;text-align:left;padding-left:5px;box-sizing:border-box;line-height:13.8px;"><div>Between
junction and
case, With
heatsink</div></div>
<div class="c" style="left:220px;top:1266px;width:65px;height:42px;font-size:12px;"><div>R<span style="font-size:10.3px;vertical-align:-1.5px">θJ-A</span></div></div>
<div class="c" style="left:220px;top:1309px;width:65px;height:56px;font-size:12px;"><div>R<span style="font-size:10.3px;vertical-align:-1.5px">θJ-C</span></div></div>
<div class="c" style="left:286px;top:1265.5px;width:46px;height:99px;font-size:10px;"><div><span style="font-family:'Noto Sans CJK SC';line-height:0;display:inline-block;transform:scaleX(0.85)">℃</span>/W</div></div>
<div class="c" style="left:333px;top:1266.3px;width:409px;height:42px;font-size:10.67px;"><div>25.0</div></div>
<div class="c" style="left:333px;top:1309.3px;width:409px;height:56px;font-size:10.67px;"><div>2.3</div></div>
<div class="t " style="left:46.00px;top:1399.76px;font-size:16px;font-weight:bold;"><span style="display:inline-block;width:7.6px;height:7.6px;background:#000;margin-right:0.8px"></span>Ordering Information (Example)</div>
<div class="l" style="left:43px;top:1416px;width:702px;height:31px;background:#c6d9f1"></div>
<div class="l" style="left:43px;top:1416px;width:703px;height:1px;background:#000"></div>
<div class="l" style="left:43px;top:1447px;width:703px;height:1px;background:#000"></div>
<div class="l" style="left:43px;top:1478px;width:703px;height:1px;background:#000"></div>
<div class="l" style="left:43px;top:1416px;width:1px;height:63px;background:#000"></div>
<div class="l" style="left:154px;top:1416px;width:1px;height:63px;background:#000"></div>
<div class="l" style="left:249px;top:1416px;width:1px;height:63px;background:#000"></div>
<div class="l" style="left:346px;top:1416px;width:1px;height:63px;background:#000"></div>
<div class="l" style="left:449px;top:1416px;width:1px;height:63px;background:#000"></div>
<div class="l" style="left:542px;top:1416px;width:1px;height:63px;background:#000"></div>
<div class="l" style="left:646px;top:1416px;width:1px;height:63px;background:#000"></div>
<div class="l" style="left:745px;top:1416px;width:1px;height:63px;background:#000"></div>
<div class="c" style="left:44px;top:1418.2px;width:110px;height:30px;font-size:10.67px;font-weight:bold;line-height:14px;letter-spacing:0.15px;"><div>PREFERED P/N</div></div>
<div class="c" style="left:155px;top:1418.2px;width:94px;height:30px;font-size:10.67px;font-weight:bold;line-height:14px;letter-spacing:0.15px;"><div>PACKAGE CODE</div></div>
<div class="c" style="left:250px;top:1418.2px;width:96px;height:30px;font-size:10.67px;font-weight:bold;line-height:14px;letter-spacing:0.15px;"><div>UNIT WEIGHT(g)</div></div>
<div class="c" style="left:347px;top:1418.2px;width:102px;height:30px;font-size:10.67px;font-weight:bold;line-height:14px;letter-spacing:0.15px;"><div>MINIIMUM
PACKAGE(pcs)</div></div>
<div class="c" style="left:450px;top:1418.2px;width:92px;height:30px;font-size:10.67px;font-weight:bold;line-height:14px;letter-spacing:0.15px;"><div>INNER BOX
QUANTITY(pcs)</div></div>
<div class="c" style="left:543px;top:1418.2px;width:103px;height:30px;font-size:10.67px;font-weight:bold;line-height:14px;letter-spacing:0.15px;"><div>OUTER CARTON
QUANTITY(pcs)</div></div>
<div class="c" style="left:647px;top:1418.2px;width:98px;height:30px;font-size:10.67px;font-weight:bold;line-height:14px;letter-spacing:0.15px;"><div>DELIVERY MODE</div></div>
<div class="c" style="left:44px;top:1449px;width:110px;height:30px;font-size:10.67px;"><div>KBJ10005~KBJ1010</div></div>
<div class="c" style="left:155px;top:1449px;width:94px;height:30px;font-size:10.67px;"><div>B1</div></div>
<div class="c" style="left:250px;top:1449px;width:96px;height:30px;font-size:10.67px;"><div>Approximate 4.27</div></div>
<div class="c" style="left:347px;top:1449px;width:102px;height:30px;font-size:12px;"><div>20</div></div>
<div class="c" style="left:450px;top:1449px;width:92px;height:30px;font-size:12px;"><div>1000</div></div>
<div class="c" style="left:543px;top:1449px;width:103px;height:30px;font-size:12px;"><div>2000</div></div>
<div class="c" style="left:647px;top:1449px;width:98px;height:30px;font-size:12px;"><div>Tube</div></div>
<div class="t " style="left:46.00px;top:1512.86px;font-size:16px;font-weight:bold;"><span style="display:inline-block;width:6.8px;height:6.8px;background:#000;margin-right:0.5px"></span> Characteristics(Typical)</div>
<svg style="left:40px;top:1540px" width="360" height="300" viewBox="40 1540 360 300">
<path d="M86.50 1568.75L86.50 1802.50M104.50 1568.75L104.50 1802.50M122.50 1568.75L122.50 1802.50M140.50 1568.75L140.50 1802.50M158.50 1568.75L158.50 1802.50M176.50 1568.75L176.50 1802.50M194.50 1568.75L194.50 1802.50M211.50 1568.75L211.50 1802.50M229.50 1568.75L229.50 1802.50M247.50 1568.75L247.50 1802.50M265.50 1568.75L265.50 1802.50M283.50 1568.75L283.50 1802.50M301.50 1568.75L301.50 1802.50M319.50 1568.75L319.50 1802.50M337.50 1568.75L337.50 1802.50M354.50 1568.75L354.50 1802.50M86.75 1568.50L355.00 1568.50M86.75 1588.50L355.00 1588.50M86.75 1606.50L355.00 1606.50M86.75 1623.50L355.00 1623.50M86.75 1640.50L355.00 1640.50M86.75 1657.50L355.00 1657.50M86.75 1673.50L355.00 1673.50M86.75 1689.50L355.00 1689.50M86.75 1705.50L355.00 1705.50M86.75 1722.50L355.00 1722.50M86.75 1738.50L355.00 1738.50M86.75 1754.50L355.00 1754.50M86.75 1770.50L355.00 1770.50M86.75 1786.50L355.00 1786.50M86.75 1802.50L355.00 1802.50" stroke="#000" stroke-width="1.15" fill="none" stroke-linecap="square"/>
<rect x="87.10" y="1739.1" width="106.80" height="30.8" fill="#fff"/>
<rect x="244" y="1572.5" width="96.5" height="63" fill="#fff"/>
<path d="M247.50 1572.50L247.50 1575.50M247.50 1632.50L247.50 1635.50M265.50 1572.50L265.50 1575.50M265.50 1632.50L265.50 1635.50M283.50 1572.50L283.50 1575.50M283.50 1632.50L283.50 1635.50M301.50 1572.50L301.50 1575.50M301.50 1632.50L301.50 1635.50M319.50 1572.50L319.50 1575.50M319.50 1632.50L319.50 1635.50M337.50 1572.50L337.50 1575.50M337.50 1632.50L337.50 1635.50M244.00 1588.50L247.00 1588.50M337.50 1588.50L340.50 1588.50M244.00 1606.50L247.00 1606.50M337.50 1606.50L340.50 1606.50M244.00 1623.50L247.00 1623.50M337.50 1623.50L340.50 1623.50" stroke="#000" stroke-width="1.15" fill="none"/>
<path d="M86.75 1640.5L283.5 1640.5L355.00 1802.5" stroke="#000" stroke-width="2.6" fill="none" stroke-linejoin="miter"/>
<g stroke="#666" stroke-width="0.6" fill="none">
<rect x="279.5" y="1588.75" width="3.5" height="22.5"/><rect x="283" y="1587" width="3.2" height="29.2"/>
<path d="M280.2 1611.3V1630 M268 1581.7L283 1586.2"/>
<path d="M287.5 1597.5H317" stroke-dasharray="3 1.5"/>
<path d="M300.5 1588.75H333.8L340 1595V1612H300.5Z"/>
<path d="M301.5 1605.75H339" stroke-dasharray="3.5 1.2" stroke-width="1.1"/>
<circle cx="319.5" cy="1597.5" r="2.2"/>
<path d="M304.2 1612v3.5l0.6 1V1630h1.6V1616.5l0.6-1V1612 M313.2 1612v3.5l0.6 1V1630h1.6V1616.5l0.6-1V1612 M322 1612v3.5l0.6 1V1630h1.6V1616.5l0.6-1V1612 M331.2 1612v3.5l0.6 1V1630h1.6V1616.5l0.6-1V1612"/>
<path d="M332.5 1583C328 1583 327 1590 325 1596"/>
</g>
<circle cx="324.8" cy="1596.6" r="0.8" fill="#333"/>
<text x="246.8" y="1584.2" font-size="4.3" fill="#444">Heatsink</text><text x="333.2" y="1584.2" font-size="4.3" fill="#444">Tc</text>
<g class="s" font-size="10" fill="#000">
<text class="s" x="175" y="1557.4" textLength="86" lengthAdjust="spacing">FIG1: Io-Tc Curve</text>
<text class="s" x="80.5" y="1577.05" text-anchor="end" font-weight="bold" font-size="9.6">14</text>
<text class="s" x="80.5" y="1610.30" text-anchor="end" font-weight="bold" font-size="9.6">12</text>
<text class="s" x="80.5" y="1640.05" text-anchor="end" font-weight="bold" font-size="9.6">10</text>
<text class="s" x="80.5" y="1674.55" text-anchor="end" font-weight="bold" font-size="9.6">8</text>
<text class="s" x="80.5" y="1707.55" text-anchor="end" font-weight="bold" font-size="9.6">6</text>
<text class="s" x="80.5" y="1739.55" text-anchor="end" font-weight="bold" font-size="9.6">4</text>
<text class="s" x="80.5" y="1772.05" text-anchor="end" font-weight="bold" font-size="9.6">2</text>
<text class="s" x="80.5" y="1802.30" text-anchor="end" font-weight="bold" font-size="9.6">0</text>
<text class="s" x="176.5" y="1814.3" text-anchor="middle" font-weight="bold" font-size="9.6">50</text>
<text class="s" x="264" y="1814.3" text-anchor="middle" font-weight="bold" font-size="9.6">100</text>
<text class="s" x="354" y="1814.3" text-anchor="middle" font-weight="bold" font-size="9.6">150</text>
<text class="s" x="179" y="1827.3" textLength="105" lengthAdjust="spacing">Case Temperature(° C)</text>
<text class="s" x="98" y="1751.5" textLength="82" lengthAdjust="spacing">sine wave R-load</text>
<text class="s" x="98" y="1762.7" textLength="66.5" lengthAdjust="spacing">with heatsink</text>
<text class="s" transform="translate(61.8 1756) rotate(-90)" textLength="151" lengthAdjust="spacing">Average Forward Output Current (A)</text>
</g></svg>
<svg style="left:400px;top:1540px" width="360" height="300" viewBox="400 1540 360 300">
<path d="M450.50 1568.25L450.50 1800.00M482.50 1568.25L482.50 1800.00M502.50 1568.25L502.50 1800.00M520.50 1568.25L520.50 1800.00M534.50 1568.25L534.50 1800.00M547.50 1568.25L547.50 1800.00M558.50 1568.25L558.50 1800.00M566.50 1568.25L566.50 1800.00M574.50 1568.25L574.50 1800.00M583.50 1568.25L583.50 1800.00M615.50 1568.25L615.50 1800.00M635.50 1568.25L635.50 1800.00M653.50 1568.25L653.50 1800.00M667.50 1568.25L667.50 1800.00M680.50 1568.25L680.50 1800.00M690.50 1568.25L690.50 1800.00M699.50 1568.25L699.50 1800.00M707.50 1568.25L707.50 1800.00M715.50 1568.25L715.50 1800.00M450.75 1568.50L715.75 1568.50M450.75 1583.50L715.75 1583.50M450.75 1599.50L715.75 1599.50M450.75 1614.50L715.75 1614.50M450.75 1630.50L715.75 1630.50M450.75 1645.50L715.75 1645.50M450.75 1660.50L715.75 1660.50M450.75 1676.50L715.75 1676.50M450.75 1691.50L715.75 1691.50M450.75 1707.50L715.75 1707.50M450.75 1722.50L715.75 1722.50M450.75 1738.50L715.75 1738.50M450.75 1753.50L715.75 1753.50M450.75 1769.50L715.75 1769.50M450.75 1784.50L715.75 1784.50M450.75 1800.50L715.75 1800.50" stroke="#000" stroke-width="1.15" fill="none" stroke-linecap="square"/>
<rect x="603" y="1572.5" width="93.5" height="67" fill="#fff"/>
<rect x="636" y="1658.8" width="59" height="21.4" fill="#fff"/>
<path d="M615.50 1572.50L615.50 1576.00M615.50 1636.00L615.50 1639.50M635.50 1572.50L635.50 1576.00M635.50 1636.00L635.50 1639.50M653.50 1572.50L653.50 1576.00M653.50 1636.00L653.50 1639.50M653.50 1680.20L653.50 1683.00M667.50 1572.50L667.50 1576.00M667.50 1636.00L667.50 1639.50M667.50 1680.20L667.50 1683.00M680.50 1572.50L680.50 1576.00M680.50 1636.00L680.50 1639.50M680.50 1680.20L680.50 1683.00M690.50 1572.50L690.50 1576.00M690.50 1636.00L690.50 1639.50M690.50 1680.20L690.50 1683.00M693.00 1583.50L696.50 1583.50M693.00 1599.50L696.50 1599.50M693.00 1614.50L696.50 1614.50M693.00 1630.50L696.50 1630.50" stroke="#000" stroke-width="1.15" fill="none"/>
<path d="M450.75 1614.25C462 1628 473 1641 483.5 1652.5C495 1665 506 1677 518.4 1688C528 1697 538 1706.5 548 1714.7C559 1723 571 1730 583.5 1735.4C594 1740 604 1744.5 615.5 1748.4C626 1752 637 1755 648.7 1757.9C660 1760.6 672 1762.5 684.2 1764.6C695 1766.4 705 1767.6 715.75 1768.75" stroke="#000" stroke-width="3" fill="none"/>
<g stroke="#000" stroke-width="0.9" fill="none">
<path d="M612.5 1612.5H694"/>
<path d="M627.5 1612.5C627.5 1590 647 1590 647 1612.5C647 1590 665.75 1590 665.75 1612.5C665.75 1590 685 1590 685 1612.5"/>
<path d="M620 1595.75H637.5 M621.25 1595.75V1612.5"/>
<path d="M627.5 1612.5V1629H647V1612.5 M647 1620H665.75V1612.5 M627.5 1620H647"/>
</g>
<text class="s" x="621" y="1581.5" font-size="10" textLength="60" lengthAdjust="spacing">half sine wave</text>
<text class="s" x="604.3" y="1617" font-size="10">0</text>
<text x="628.3" y="1619" font-size="4.6" font-weight="bold" textLength="17.5" lengthAdjust="spacingAndGlyphs">8.3ms</text><text x="648" y="1619" font-size="4.6" font-weight="bold" textLength="17" lengthAdjust="spacingAndGlyphs">8.3ms</text><text x="629" y="1627.3" font-size="5.4" font-weight="bold" textLength="16.5" lengthAdjust="spacingAndGlyphs">1cycle</text>
<text transform="translate(619.3 1611.5) rotate(-90)" font-size="4.8" font-weight="bold">IFSM</text>
<text x="639" y="1668.4" font-size="9.2" textLength="52" lengthAdjust="spacingAndGlyphs">non-repetitive</text><text x="640" y="1679" font-size="9.2">Tj=25<tspan font-family="Noto Serif CJK SC" font-size="8">℃</tspan></text>
<text x="581.75" y="1560" font-size="9.9" font-weight="bold" text-anchor="middle">FIG2:Surge Forward Current Capability</text>
<text x="447.5" y="1586.75" text-anchor="end" font-size="9.6">200</text>
<text x="447.5" y="1617.50" text-anchor="end" font-size="9.6">175</text>
<text x="447.5" y="1648.50" text-anchor="end" font-size="9.6">150</text>
<text x="447.5" y="1679.50" text-anchor="end" font-size="9.6">125</text>
<text x="447.5" y="1710.20" text-anchor="end" font-size="9.6">100</text>
<text x="447.5" y="1741.00" text-anchor="end" font-size="9.6">75</text>
<text x="447.5" y="1772.00" text-anchor="end" font-size="9.6">50</text>
<text x="447.5" y="1803.00" text-anchor="end" font-size="9.6">0</text>
<text x="450.75" y="1813.8" text-anchor="middle" font-size="9.6">1</text>
<text x="483.75" y="1813.8" text-anchor="middle" font-size="9.6">2</text>
<text x="534.5" y="1813.8" text-anchor="middle" font-size="9.6">5</text>
<text x="583" y="1813.8" text-anchor="middle" font-size="9.6">10</text>
<text x="615.75" y="1813.8" text-anchor="middle" font-size="9.6">20</text>
<text x="667" y="1813.8" text-anchor="middle" font-size="9.6">50</text>
<text x="718" y="1813.8" text-anchor="middle" font-size="9.6">100</text>
<text x="576" y="1826.2" font-size="9.8" font-weight="bold" text-anchor="middle">Number of Cycles</text>
<text transform="translate(423 1678) rotate(-90)" font-size="10" font-weight="bold" text-anchor="middle">Peak Forward Surge Current (A)</text>
</svg>
<svg style="left:30px;top:1835px" width="370" height="300" viewBox="30 1835 370 300">
<path d="M88.50 1855.50L88.50 2089.50M115.50 1855.50L115.50 2089.50M142.50 1855.50L142.50 2089.50M169.50 1855.50L169.50 2089.50M195.50 1855.50L195.50 2089.50M222.50 1855.50L222.50 2089.50M249.50 1855.50L249.50 2089.50M276.50 1855.50L276.50 2089.50M303.50 1855.50L303.50 2089.50M330.50 1855.50L330.50 2089.50M357.50 1855.50L357.50 2089.50M88.25 1855.50L357.55 1855.50M88.25 1864.50L357.55 1864.50M88.25 1873.50L357.55 1873.50M88.25 1885.50L357.55 1885.50M88.25 1897.50L357.55 1897.50M88.25 1918.50L357.55 1918.50M88.25 1923.50L357.55 1923.50M88.25 1929.50L357.55 1929.50M88.25 1934.50L357.55 1934.50M88.25 1941.50L357.55 1941.50M88.25 1949.50L357.55 1949.50M88.25 1959.50L357.55 1959.50M88.25 1970.50L357.55 1970.50M88.25 1983.50L357.55 1983.50M88.25 2003.50L357.55 2003.50M88.25 2009.50L357.55 2009.50M88.25 2015.50L357.55 2015.50M88.25 2020.50L357.55 2020.50M88.25 2027.50L357.55 2027.50M88.25 2035.50L357.55 2035.50M88.25 2045.50L357.55 2045.50M88.25 2056.50L357.55 2056.50M88.25 2069.50L357.55 2069.50M88.25 2089.50L357.55 2089.50" stroke="#222" stroke-width="1.1" fill="none" stroke-linecap="square"/>
<rect x="196.4" y="1886.4" width="48.8" height="31.5" fill="#fff"/>
<path d="M168.75 2089.50C172.50 2080.67 172.25 2081.17 180.00 2063.00C187.75 2044.83 182.37 2056.60 192.00 2035.00C201.63 2013.40 198.70 2020.73 208.90 1998.20C219.10 1975.67 214.67 1984.63 222.60 1967.40C230.53 1950.17 226.53 1958.40 232.70 1946.50C238.87 1934.60 235.50 1941.30 241.10 1931.70C246.70 1922.10 242.03 1928.17 249.50 1917.70C256.97 1907.23 254.57 1910.93 263.50 1900.30C272.43 1889.67 267.93 1894.63 276.30 1885.80C284.67 1876.97 279.63 1881.83 288.60 1873.80C297.57 1865.77 295.00 1867.97 303.20 1861.70C311.40 1855.43 309.87 1857.23 313.20 1855.00" stroke="#222" stroke-width="4" fill="none" stroke-linecap="round"/>
<text x="197" y="1899.8" font-size="11.8">Ta=25<tspan font-family="Noto Sans CJK SC" font-size="10" dx="-0.5">℃</tspan></text>
<text x="221.2" y="1846" font-size="11.2" text-anchor="middle">FIG3:Instantaneous Forward Voltage</text>
<text x="80.3" y="1860.35" text-anchor="end" font-size="11.2">60</text>
<text x="80.3" y="1877.85" text-anchor="end" font-size="11.2">40</text>
<text x="80.3" y="1902.10" text-anchor="end" font-size="11.2">20</text>
<text x="80.3" y="1923.10" text-anchor="end" font-size="11.2">10</text>
<text x="80.3" y="1953.60" text-anchor="end" font-size="11.2">5.0</text>
<text x="83.3" y="2009.10" text-anchor="end" font-size="11.2">1.0</text>
<text x="83.3" y="2039.60" text-anchor="end" font-size="11.2">0.5</text>
<text x="83.3" y="2073.60" text-anchor="end" font-size="11.2">0.2</text>
<text x="83.3" y="2093.60" text-anchor="end" font-size="11.2">0.1</text>
<text x="93.3" y="2102.8" text-anchor="middle" font-size="11.4">0.4</text>
<text x="145.7" y="2102.8" text-anchor="middle" font-size="11.4">0.6</text>
<text x="198" y="2102.8" text-anchor="middle" font-size="11.4">0.8</text>
<text x="250.4" y="2102.8" text-anchor="middle" font-size="11.4">1.0</text>
<text x="302.8" y="2102.8" text-anchor="middle" font-size="11.4">1.2</text>
<text x="358" y="2102.8" text-anchor="middle" font-size="11.4">1.4</text>
<text x="116.25" y="2120.4" font-size="11.2" textLength="176" lengthAdjust="spacing">Instantaneous Forward Voltage (V)</text>
<text transform="translate(51.3 1988) rotate(-90)" font-size="10" text-anchor="middle">Instantaneous Forward Current(A)</text>
</svg>
<svg style="left:400px;top:1835px" width="370" height="300" viewBox="400 1835 370 300">
<path d="M452.50 1854.50L452.50 2090.50M479.50 1854.50L479.50 2090.50M505.50 1854.50L505.50 2090.50M531.50 1854.50L531.50 2090.50M558.50 1854.50L558.50 2090.50M584.50 1854.50L584.50 2090.50M611.50 1854.50L611.50 2090.50M637.50 1854.50L637.50 2090.50M663.50 1854.50L663.50 2090.50M690.50 1854.50L690.50 2090.50M716.50 1854.50L716.50 2090.50M452.80 1854.50L716.50 1854.50M452.80 1856.50L716.50 1856.50M452.80 1858.50L716.50 1858.50M452.80 1860.50L716.50 1860.50M452.80 1863.50L716.50 1863.50M452.80 1872.50L716.50 1872.50M452.80 1881.50L716.50 1881.50M452.80 1889.50L716.50 1889.50M452.80 1901.50L716.50 1901.50M452.80 1913.50L716.50 1913.50M452.80 1915.50L716.50 1915.50M452.80 1917.50L716.50 1917.50M452.80 1919.50L716.50 1919.50M452.80 1922.50L716.50 1922.50M452.80 1931.50L716.50 1931.50M452.80 1940.50L716.50 1940.50M452.80 1948.50L716.50 1948.50M452.80 1960.50L716.50 1960.50M452.80 1972.50L716.50 1972.50M452.80 1974.50L716.50 1974.50M452.80 1976.50L716.50 1976.50M452.80 1978.50L716.50 1978.50M452.80 1981.50L716.50 1981.50M452.80 1990.50L716.50 1990.50M452.80 1999.50L716.50 1999.50M452.80 2007.50L716.50 2007.50M452.80 2019.50L716.50 2019.50M452.80 2031.50L716.50 2031.50M452.80 2033.50L716.50 2033.50M452.80 2035.50L716.50 2035.50M452.80 2037.50L716.50 2037.50M452.80 2040.50L716.50 2040.50M452.80 2049.50L716.50 2049.50M452.80 2058.50L716.50 2058.50M452.80 2066.50L716.50 2066.50M452.80 2078.50L716.50 2078.50M452.80 2090.50L716.50 2090.50" stroke="#111" stroke-width="1.1" fill="none" stroke-linecap="square"/>
<rect x="508" y="1866.5" width="49.5" height="12.5" fill="#fff"/>
<rect x="508.5" y="2001.5" width="40.5" height="12.5" fill="#fff"/>
<path d="M504.5 1889.5C522 1888.7 540 1887.7 557.8 1886.6C576 1885.4 594 1883.9 611 1881.9C620 1880.8 629 1879.5 637.5 1878C646.5 1876.5 655.5 1874.9 664 1873C673 1871 682 1869.2 690 1867C699 1864.5 708 1861.6 716.5 1858.4" stroke="#000" stroke-width="3" fill="none" stroke-linecap="round"/>
<path d="M503.75 2031.9C521 2031 539 2029.8 557 2028.4C575 2027 593 2025.7 610 2024.3C619 2023.5 628 2022.5 636.8 2021.3C646 2020.2 655 2019.2 663.5 2017.7C672.5 2016.3 681.5 2014.8 690 2013C699 2011.2 708 2009.3 716.5 2007" stroke="#000" stroke-width="3" fill="none" stroke-linecap="round"/>
<text x="509" y="1877.2" font-size="11.4" textLength="34" lengthAdjust="spacingAndGlyphs">Tj=150</text><text x="543.5" y="1877.2" font-family="Noto Sans CJK SC" font-size="10.5">℃</text>
<text x="509.5" y="2012" font-size="11.2">Tj=25</text><text x="537.5" y="2012" font-family="Noto Sans CJK SC" font-size="10.5">℃</text>
<text x="580.2" y="1846" font-size="11" text-anchor="middle">FIG4:Typical Reverse Characteristics</text>
<text x="438.6" y="1856.80" text-anchor="middle" font-size="11">100</text>
<text x="438.6" y="1915.80" text-anchor="middle" font-size="11">10</text>
<text x="438.6" y="1975.80" text-anchor="middle" font-size="11">1</text>
<text x="438.6" y="2032.80" text-anchor="middle" font-size="11">0.1</text>
<text x="438.6" y="2092.20" text-anchor="middle" font-size="11">0.01</text>
<text x="452.2" y="2104.6" text-anchor="middle" font-size="11">0</text>
<text x="503.75" y="2104.6" text-anchor="middle" font-size="11">20</text>
<text x="556.9" y="2104.6" text-anchor="middle" font-size="11">40</text>
<text x="610" y="2104.6" text-anchor="middle" font-size="11">60</text>
<text x="663" y="2104.6" text-anchor="middle" font-size="11">80</text>
<text x="716" y="2104.6" text-anchor="middle" font-size="11">100</text>
<text x="488" y="2115.3" font-size="11" textLength="212" lengthAdjust="spacing">Percent of Rated Peak Reverse Voltage(%)</text>
<text transform="translate(426 1978) rotate(-90)" font-size="10" text-anchor="middle">Instantaneous Reverse Current(μA)</text>
</svg>
<div class="t " style="left:46.00px;top:2338.26px;font-size:16px;font-weight:bold;"><span style="display:inline-block;width:6.8px;height:6.8px;background:#000;margin-right:0.5px"></span> Outline Dimensions</div>
<div class="l" style="left:45.2px;top:2370px;width:427px;height:354px;border:2px solid #000;box-sizing:content-box"></div>
<div class="t " style="left:270.50px;top:2390.01px;font-size:18.3px;transform:translateX(-50%);color:#222;">4KBJ</div>
<div class="t " style="left:95.60px;top:2410.22px;font-size:11.2px;color:#222;">HOLE FOR NO.</div>
<div class="t " style="left:95.60px;top:2423.32px;font-size:11.2px;color:#222;">6 SCREW</div>
<div class="t " style="left:220.30px;top:2681.77px;font-size:11.26px;color:#222;">Dimensions in millimeters</div>
<svg style="left:46px;top:2372px" width="428" height="354" viewBox="46 2372 428 354">
<path d="M128.4 2485.6L144.4 2469.4H264.4V2549H128.4Z M128.4 2525.3H264.4 M128.4 2528.4H264.4M131.8 2549V2638.5L133.8 2643H136.2L138.2 2638.5V2571H144.5V2549M169.7 2549V2566.5L172.8 2571V2638.5L174.8 2643H177.2L179.2 2638.5V2571L182.3 2566.5V2549M210.29999999999998 2549V2566.5L213.4 2571V2638.5L215.4 2643H217.79999999999998L219.79999999999998 2638.5V2571L222.9 2566.5V2549M260.5 2549V2638.5L258.5 2643H256.1L254.10000000000002 2638.5V2571H247.8V2549" stroke="#1a1a1a" stroke-width="1.05" fill="none"/>
<circle cx="196" cy="2496.7" r="8.6" stroke="#1a1a1a" stroke-width="1.05" fill="none"/>
<path d="M135 2551V2640M176 2551V2640M216.6 2551V2640M257.3 2551V2640" stroke="#222" stroke-width="0.8" fill="none" stroke-dasharray="7 2.5"/>
<path d="M400.6 2469.4H420V2523.4L426 2527.5V2549.4H400.6Z M415.3 2549.4V2643.3H419.4V2549.4 M417.2 2549.4V2640 M415.3 2640H419.4 M415.3 2574H419.4" stroke="#1a1a1a" stroke-width="1.05" fill="none"/>
<path d="M400.6 2492.2H420 M400.6 2502.5H420" stroke="#222" stroke-width="0.8" fill="none" stroke-dasharray="6 2"/>
<path d="M368 2497.5H391.5 M396 2497.5H426" stroke="#222" stroke-width="0.7" fill="none" stroke-dasharray="12 3"/>
<path d="M196 2484V2509.3 M183.3 2496.7H208.8M96.25 2438.4H161.25L196 2496.5M128.4 2441.5V2481 M264.4 2441V2466 M128.4 2447.8H189 M203 2447.8H264.4M267 2469.4H325 M267 2525.3H292 M267 2549.4H325 M262 2643H325M318.75 2469.4V2499 M318.75 2513V2549.4M318.75 2549.4V2589 M318.75 2603V2643M285.6 2514V2525.3 M285.6 2549.4V2560M291.25 2549.4V2580.6H285 M260.5 2570.9H298M117 2566.5H145.5 M131.8 2560V2573 M135 2560V2573M96.25 2587.5H192.2 M169.7 2578V2594 M182.2 2578V2594M96.25 2609.4H148.4M135 2644.7V2670.6 M176 2644.7V2670.6 M216.6 2644.7V2670.6 M257.3 2644.7V2670.6M135 2664.4H149 M160.5 2664.4H176 M176 2664.4H190 M202 2664.4H216.6 M216.6 2664.4H230.5 M242 2664.4H257.3M400.6 2428V2467 M426 2428V2525 M395 2433.75H426M379 2457.2H420 M420 2450V2469.4M394.7 2489H456 M394.7 2505.6H456 M449.4 2474.4V2489 M449.4 2505.6V2516 M449.4 2474.4H455.6M374.4 2497.5V2516 M374.4 2530.5V2549.4 M368 2549.4H396M400.6 2553V2583 M395 2577.2H419.4M415.3 2647V2671 M419.4 2647V2671 M404.5 2664.2H415.3 M419.4 2664.2H444.8" stroke="#1a1a1a" stroke-width="0.85" fill="none"/>
<path d="M128.40 2447.80L133.40 2446.65L133.40 2448.95ZM264.40 2447.80L259.40 2448.95L259.40 2446.65ZM318.75 2469.40L319.90 2474.40L317.60 2474.40ZM318.75 2549.40L317.60 2544.40L319.90 2544.40ZM318.75 2549.40L319.90 2554.40L317.60 2554.40ZM318.75 2643.00L317.60 2638.00L319.90 2638.00ZM285.60 2525.30L284.45 2520.30L286.75 2520.30ZM285.60 2549.40L286.75 2554.40L284.45 2554.40ZM291.25 2549.40L292.40 2554.40L290.10 2554.40ZM291.25 2570.90L290.10 2565.90L292.40 2565.90ZM131.80 2566.50L126.80 2567.65L126.80 2565.35ZM138.20 2566.50L143.20 2565.35L143.20 2567.65ZM169.70 2587.50L164.70 2588.65L164.70 2586.35ZM182.20 2587.50L187.20 2586.35L187.20 2588.65ZM131.80 2609.40L126.80 2610.55L126.80 2608.25ZM138.20 2609.40L143.20 2608.25L143.20 2610.55ZM135.00 2664.40L140.00 2663.25L140.00 2665.55ZM176.00 2664.40L171.00 2665.55L171.00 2663.25ZM176.00 2664.40L181.00 2663.25L181.00 2665.55ZM216.60 2664.40L211.60 2665.55L211.60 2663.25ZM216.60 2664.40L221.60 2663.25L221.60 2665.55ZM257.30 2664.40L252.30 2665.55L252.30 2663.25ZM400.60 2433.75L405.60 2432.60L405.60 2434.90ZM426.00 2433.75L421.00 2434.90L421.00 2432.60ZM400.60 2457.20L405.60 2456.05L405.60 2458.35ZM420.00 2457.20L415.00 2458.35L415.00 2456.05ZM449.40 2489.00L448.25 2484.00L450.55 2484.00ZM449.40 2505.60L450.55 2510.60L448.25 2510.60ZM374.40 2497.50L375.55 2502.50L373.25 2502.50ZM374.40 2549.40L373.25 2544.40L375.55 2544.40ZM400.60 2577.20L405.60 2576.05L405.60 2578.35ZM415.30 2577.20L410.30 2578.35L410.30 2576.05ZM415.30 2664.20L410.30 2665.35L410.30 2663.05ZM419.40 2664.20L424.40 2663.05L424.40 2665.35Z" stroke="none" fill="#222"/>
<g font-size="11" fill="#111" text-anchor="middle" stroke="#111" stroke-width="0.15">
<text class="s" x="196" y="2451.40" textLength="5.6" lengthAdjust="spacingAndGlyphs">A</text>
<text class="s" x="318.2" y="2509.60" textLength="5.6" lengthAdjust="spacingAndGlyphs">F</text>
<text class="s" x="318.2" y="2599.60" textLength="5.6" lengthAdjust="spacingAndGlyphs">N</text>
<text class="s" x="285.3" y="2540.90" textLength="5.6" lengthAdjust="spacingAndGlyphs">G</text>
<text class="s" x="279.4" y="2584.20" textLength="5.6" lengthAdjust="spacingAndGlyphs">H</text>
<text class="s" x="111" y="2570.10" textLength="5.6" lengthAdjust="spacingAndGlyphs">B</text>
<text class="s" x="89" y="2591.10" textLength="5.6" lengthAdjust="spacingAndGlyphs">C</text>
<text class="s" x="89" y="2613.00" textLength="5.6" lengthAdjust="spacingAndGlyphs">D</text>
<text class="s" x="154.7" y="2668.00" textLength="5.6" lengthAdjust="spacingAndGlyphs">E</text>
<text class="s" x="196" y="2668.00" textLength="5.6" lengthAdjust="spacingAndGlyphs">E</text>
<text class="s" x="236.2" y="2668.00" textLength="5.6" lengthAdjust="spacingAndGlyphs">E</text>
<text class="s" x="389.4" y="2438.00">J</text>
<text class="s" x="371.9" y="2460.80" textLength="5.6" lengthAdjust="spacingAndGlyphs">K</text>
<text class="s" x="459.7" y="2477.60">I</text>
<text class="s" x="373.9" y="2527.00" textLength="5.6" lengthAdjust="spacingAndGlyphs">O</text>
<text class="s" x="388.4" y="2580.80" textLength="5.6" lengthAdjust="spacingAndGlyphs">L</text>
<text class="s" x="450" y="2668.30" textLength="5.6" lengthAdjust="spacingAndGlyphs">M</text>
</g>
<g font-size="14" fill="#222" text-anchor="middle"><text class="s" x="138.75" y="2542.4">+</text><text class="s" x="174.7" y="2544" font-size="16">~</text><text class="s" x="215.3" y="2544" font-size="16">~</text><text class="s" x="251.25" y="2542" font-size="15" font-weight="bold">−</text></g>
</svg>
<div class="l" style="left:513px;top:2372px;width:197px;height:1px;background:#000"></div>
<div class="l" style="left:513px;top:2392px;width:197px;height:1px;background:#000"></div>
<div class="l" style="left:513px;top:2411px;width:197px;height:1px;background:#000"></div>
<div class="l" style="left:513px;top:2431px;width:197px;height:1px;background:#000"></div>
<div class="l" style="left:513px;top:2450px;width:197px;height:1px;background:#000"></div>
<div class="l" style="left:513px;top:2470px;width:197px;height:1px;background:#000"></div>
<div class="l" style="left:513px;top:2489px;width:197px;height:1px;background:#000"></div>
<div class="l" style="left:513px;top:2509px;width:197px;height:1px;background:#000"></div>
<div class="l" style="left:513px;top:2528px;width:197px;height:1px;background:#000"></div>
<div class="l" style="left:513px;top:2548px;width:197px;height:1px;background:#000"></div>
<div class="l" style="left:513px;top:2567px;width:197px;height:1px;background:#000"></div>
<div class="l" style="left:513px;top:2587px;width:197px;height:1px;background:#000"></div>
<div class="l" style="left:513px;top:2606px;width:197px;height:1px;background:#000"></div>
<div class="l" style="left:513px;top:2626px;width:197px;height:1px;background:#000"></div>
<div class="l" style="left:513px;top:2645px;width:197px;height:1px;background:#000"></div>
<div class="l" style="left:513px;top:2665px;width:197px;height:1px;background:#000"></div>
<div class="l" style="left:513px;top:2684px;width:197px;height:1px;background:#000"></div>
<div class="l" style="left:513px;top:2704px;width:197px;height:1px;background:#000"></div>
<div class="l" style="left:513px;top:2372px;width:1px;height:333px;background:#000"></div>
<div class="l" style="left:709px;top:2372px;width:1px;height:333px;background:#000"></div>
<div class="l" style="left:578px;top:2392px;width:1px;height:312px;background:#000"></div>
<div class="l" style="left:643px;top:2392px;width:1px;height:312px;background:#000"></div>
<div class="c" style="left:514px;top:2374px;width:195px;height:19px;font-size:12px;font-weight:bold;"><div>4KBJ</div></div>
<div class="c" style="left:514px;top:2394px;width:64px;height:18px;font-size:12px;"><div>Dim</div></div>
<div class="c" style="left:579px;top:2394px;width:64px;height:18px;font-size:12px;"><div>Min</div></div>
<div class="c" style="left:644px;top:2394.8px;width:65px;height:18px;font-size:12px;"><div>Max</div></div>
<div class="c" style="left:514px;top:2413px;width:64px;height:19px;font-size:12px;"><div>A</div></div>
<div class="c" style="left:579px;top:2413px;width:64px;height:19px;font-size:12px;"><div>24.7</div></div>
<div class="c" style="left:644px;top:2413.8px;width:65px;height:19px;font-size:12px;"><div>25.3</div></div>
<div class="c" style="left:514px;top:2433px;width:64px;height:18px;font-size:12px;"><div>B</div></div>
<div class="c" style="left:579px;top:2433px;width:64px;height:18px;font-size:12px;"><div>1.05</div></div>
<div class="c" style="left:644px;top:2433.8px;width:65px;height:18px;font-size:12px;"><div>1.45</div></div>
<div class="c" style="left:514px;top:2452px;width:64px;height:19px;font-size:12px;"><div>C</div></div>
<div class="c" style="left:579px;top:2452px;width:64px;height:19px;font-size:12px;"><div>1.7</div></div>
<div class="c" style="left:644px;top:2452.8px;width:65px;height:19px;font-size:12px;"><div>2.1</div></div>
<div class="c" style="left:514px;top:2472px;width:64px;height:18px;font-size:12px;"><div>D</div></div>
<div class="c" style="left:579px;top:2472px;width:64px;height:18px;font-size:12px;"><div>0.9</div></div>
<div class="c" style="left:644px;top:2472.8px;width:65px;height:18px;font-size:12px;"><div>1.1</div></div>
<div class="c" style="left:514px;top:2491px;width:64px;height:19px;font-size:12px;"><div>E</div></div>
<div class="c" style="left:579px;top:2491px;width:64px;height:19px;font-size:12px;"><div>7.3</div></div>
<div class="c" style="left:644px;top:2491.8px;width:65px;height:19px;font-size:12px;"><div>7.7</div></div>
<div class="c" style="left:514px;top:2511px;width:64px;height:18px;font-size:12px;"><div>F</div></div>
<div class="c" style="left:579px;top:2511px;width:64px;height:18px;font-size:12px;"><div>14.7</div></div>
<div class="c" style="left:644px;top:2511.8px;width:65px;height:18px;font-size:12px;"><div>15.3</div></div>
<div class="c" style="left:514px;top:2530px;width:64px;height:19px;font-size:12px;"><div>G</div></div>
<div class="c" style="left:579px;top:2530px;width:64px;height:19px;font-size:12px;"><div>3.8</div></div>
<div class="c" style="left:644px;top:2530.8px;width:65px;height:19px;font-size:12px;"><div>4.2</div></div>
<div class="c" style="left:514px;top:2550px;width:64px;height:18px;font-size:12px;"><div>H</div></div>
<div class="c" style="left:579px;top:2550px;width:64px;height:18px;font-size:12px;"><div>3.3</div></div>
<div class="c" style="left:644px;top:2550.8px;width:65px;height:18px;font-size:12px;"><div>3.7</div></div>
<div class="c" style="left:514px;top:2569px;width:64px;height:19px;font-size:12px;"><div>I</div></div>
<div class="c" style="left:579px;top:2569px;width:64px;height:19px;font-size:12px;"><div>3.1</div></div>
<div class="c" style="left:644px;top:2569.8px;width:65px;height:19px;font-size:12px;"><div>3.4</div></div>
<div class="c" style="left:514px;top:2589px;width:64px;height:18px;font-size:12px;"><div>J</div></div>
<div class="c" style="left:579px;top:2589px;width:64px;height:18px;font-size:12px;"><div>4.4</div></div>
<div class="c" style="left:644px;top:2589.8px;width:65px;height:18px;font-size:12px;"><div>4.8</div></div>
<div class="c" style="left:514px;top:2608px;width:64px;height:19px;font-size:12px;"><div>K</div></div>
<div class="c" style="left:579px;top:2608px;width:64px;height:19px;font-size:12px;"><div>3.4</div></div>
<div class="c" style="left:644px;top:2608.8px;width:65px;height:19px;font-size:12px;"><div>3.8</div></div>
<div class="c" style="left:514px;top:2628px;width:64px;height:18px;font-size:12px;"><div>L</div></div>
<div class="c" style="left:579px;top:2628px;width:64px;height:18px;font-size:12px;"><div>3.2</div></div>
<div class="c" style="left:644px;top:2628.8px;width:65px;height:18px;font-size:12px;"><div>3.4</div></div>
<div class="c" style="left:514px;top:2647px;width:64px;height:19px;font-size:12px;"><div>M</div></div>
<div class="c" style="left:579px;top:2647px;width:64px;height:19px;font-size:12px;"><div>0.6</div></div>
<div class="c" style="left:644px;top:2647.8px;width:65px;height:19px;font-size:12px;"><div>0.8</div></div>
<div class="c" style="left:514px;top:2667px;width:64px;height:18px;font-size:12px;"><div>N</div></div>
<div class="c" style="left:579px;top:2667px;width:64px;height:18px;font-size:12px;"><div>17.0</div></div>
<div class="c" style="left:644px;top:2667.8px;width:65px;height:18px;font-size:12px;"><div>18.0</div></div>
<div class="c" style="left:514px;top:2686px;width:64px;height:19px;font-size:12px;"><div>O</div></div>
<div class="c" style="left:579px;top:2686px;width:64px;height:19px;font-size:12px;"><div>9.5</div></div>
<div class="c" style="left:644px;top:2686.8px;width:65px;height:19px;font-size:12px;"><div>10.1</div></div>
</body></html>
